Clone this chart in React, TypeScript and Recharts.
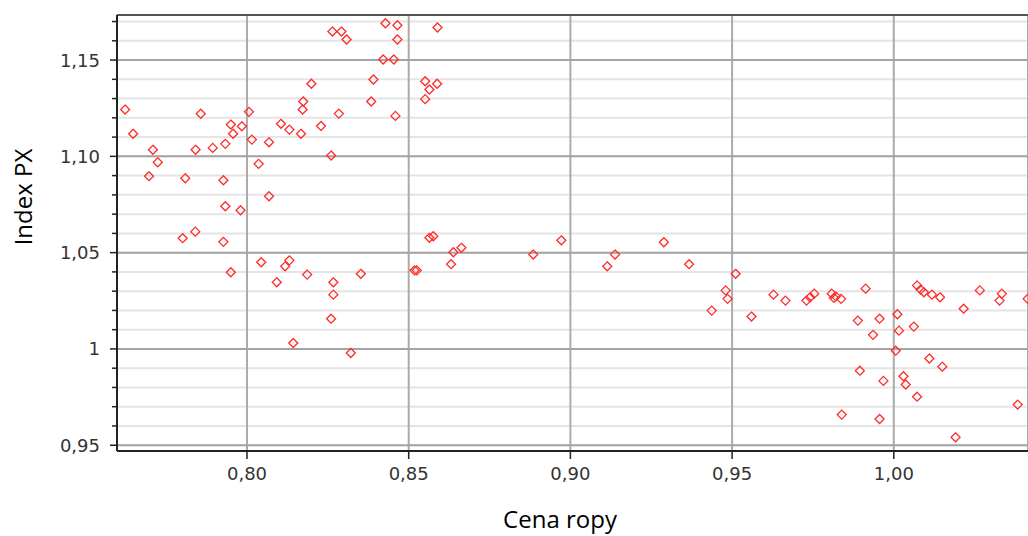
import React from "react";
import {
  ScatterChart,
  Scatter,
  XAxis,
  YAxis,
  CartesianGrid,
  ReferenceLine
} from "recharts";

// Cena ropy (x) a Index PX (y)
const cenaRopy = [
  0.7623, 0.7648, 0.7697, 0.7709, 0.7724, 0.7801, 0.7809, 0.784, 0.7841, 0.7857,
  0.7894, 0.7927, 0.7927, 0.7933, 0.7933, 0.795, 0.7957, 0.798, 0.7984, 0.8006,
  0.8015, 0.8036, 0.8068, 0.8068, 0.8105, 0.8131, 0.8167, 0.8172, 0.8174, 0.8199,
  0.8229, 0.826, 0.8264, 0.8284, 0.8292, 0.8308, 0.8428, 0.8465, 0.8589, 0.8465,
  0.8421, 0.8454, 0.8391, 0.8551, 0.8588, 0.8564, 0.8551, 0.8384, 0.8459, 0.8564,
  0.8576, 0.795, 0.8044, 0.8092, 0.8118, 0.8131, 0.8186, 0.8143, 0.8267, 0.8267,
  0.826, 0.8321, 0.8352, 0.8518, 0.8525, 0.8638, 0.8663, 0.8631, 0.8885, 0.8972,
  0.9114, 0.9138, 0.9289, 0.9367, 0.9437, 0.948, 0.9486, 0.9511, 0.956, 0.9628,
  0.9665, 0.973, 0.9741, 0.9754, 0.9808, 0.9815, 0.9821, 0.9837, 0.9839, 0.9889,
  0.9895, 0.9913, 0.9936, 0.9956, 0.9956, 0.9968, 1.0006, 1.0011, 1.0016, 1.003,
  1.0037, 1.0062, 1.0072, 1.0083, 1.0093, 1.0072, 1.011, 1.0118, 1.0143, 1.015,
  1.0191, 1.0216, 1.0266, 1.0327, 1.0334, 1.0383, 1.0414
];

const indexPX = [
  1.1243, 1.1117, 1.0897, 1.1034, 1.0969, 1.0575, 1.0886, 1.0609, 1.1034, 1.1221,
  1.1044, 1.0556, 1.0876, 1.0741, 1.1065, 1.1165, 1.1117, 1.072, 1.1156, 1.1231,
  1.1087, 1.0961, 1.1073, 1.0793, 1.1169, 1.1139, 1.1117, 1.1243, 1.1285, 1.1377,
  1.1158, 1.1004, 1.1648, 1.1222, 1.1648, 1.1607, 1.1691, 1.1681, 1.1669, 1.1607,
  1.1503, 1.1503, 1.1399, 1.139, 1.1377, 1.1347, 1.1297, 1.1285, 1.121, 1.0577,
  1.0585, 1.0398, 1.045, 1.0346, 1.0429, 1.046, 1.0386, 1.0031, 1.0346, 1.0282,
  1.0157, 0.9979, 1.039, 1.0408, 1.0408, 1.0502, 1.0525, 1.044, 1.049, 1.0564,
  1.0429, 1.049, 1.0554, 1.044, 1.0199, 1.0304, 1.026, 1.039, 1.0168, 1.0282,
  1.0251, 1.0251, 1.0268, 1.0287, 1.0287, 1.0265, 1.0273, 1.026, 0.9659, 1.0147,
  0.9887, 1.0313, 1.0073, 1.0157, 0.9636, 0.9834, 0.9991, 1.018, 1.0095, 0.9858,
  0.9815, 1.0116, 1.033, 1.0308, 1.0294, 0.9752, 0.995, 1.0282, 1.0268, 0.9908,
  0.9541, 1.0209, 1.0304, 1.0251, 1.0287, 0.9711, 1.026
];

const xTicks = [0.8, 0.85, 0.9, 0.95, 1.0];
const yTicks = [
  0.95, 0.96, 0.97, 0.98, 0.99, 1.0, 1.01, 1.02, 1.03, 1.04, 1.05, 1.06,
  1.07, 1.08, 1.09, 1.1, 1.11, 1.12, 1.13, 1.14, 1.15, 1.16, 1.17
];
const yMajor = [0.95, 1.0, 1.05, 1.1, 1.15];

const xDomain = [0.7598, 1.0415];
const yDomain = [0.947, 1.1734];

const data = cenaRopy.map((x, i) => ({ x, y: indexPX[i] }));

const isMajor = (v: number) => Math.round(v * 100) % 5 === 0;
const fmtX = (v: number) => v.toFixed(2).replace(".", ",");
const fmtY = (v: number) => (v === 1 ? "1" : v.toFixed(2).replace(".", ","));

const tickFont = { fontFamily: "DejaVu Sans", fontSize: 18, fill: "#333" };

const YTick = (props: any) => {
  const { x, y, payload } = props;
  const major = isMajor(payload.value);
  return (
    <g>
      <line x1={x - (major ? 7 : 5)} x2={x} y1={y} y2={y} stroke="#222" strokeWidth={1.5} />
      {major && (
        <text x={x - 17} y={y + 6.5} textAnchor="end" {...tickFont}>
          {fmtY(payload.value)}
        </text>
      )}
    </g>
  );
};

const XTick = (props: any) => {
  const { x, y, payload } = props;
  return (
    <g>
      <line x1={x} x2={x} y1={y} y2={y + 8} stroke="#222" strokeWidth={1.5} />
      <text x={x} y={y + 29} textAnchor="middle" {...tickFont}>
        {fmtX(payload.value)}
      </text>
    </g>
  );
};

const Diamond = (props: any) => {
  const { cx, cy } = props;
  if (cx == null || cy == null) return null;
  const r = 4.5;
  return (
    <path
      d={`M${cx},${cy - r}L${cx + r},${cy}L${cx},${cy + r}L${cx - r},${cy}Z`}
      fill="none"
      stroke="#ff2a2a"
      strokeWidth={1.3}
    />
  );
};

const YTitle = () => (
  <text
    x={22}
    y={197}
    transform="rotate(-90, 22, 197)"
    textAnchor="middle"
    dominantBaseline="central"
    fontFamily="Open Sans"
    fontSize={24}
    fill="#000"
  >
    Index PX
  </text>
);

const XTitle = () => (
  <text x={560} y={528} textAnchor="middle" fontFamily="Open Sans" fontSize={24} fill="#000">
    Cena ropy
  </text>
);

export default function App() {
  return (
    <div
      style={{
        position: "absolute",
        left: 0,
        top: 0,
        width: 1028,
        height: 536,
        overflow: "hidden",
        background: "#fff"
      }}
    >
      <ScatterChart width={1028} height={536} margin={{ top: 15, right: 0, bottom: 0, left: 0 }}>
        <CartesianGrid vertical={false} stroke="#e4e4e4" strokeWidth={2} />
        <CartesianGrid horizontal={false} stroke="#ababab" strokeWidth={2} />
        {yMajor.map((v) => (
          <ReferenceLine key={v} y={v} stroke="#a4a4a4" strokeWidth={2} />
        ))}
        <ReferenceLine y={yDomain[1]} stroke="#555" strokeWidth={2} />
        <XAxis
          type="number"
          dataKey="x"
          domain={xDomain}
          allowDataOverflow
          ticks={xTicks}
          interval={0}
          height={85}
          tickSize={0}
          tickMargin={0}
          tickLine={false}
          tick={<XTick />}
          axisLine={{ stroke: "#222", strokeWidth: 2 }}
          label={<XTitle />}
        />
        <YAxis
          type="number"
          dataKey="y"
          domain={yDomain}
          allowDataOverflow
          ticks={yTicks}
          interval={0}
          width={117}
          tickSize={0}
          tickMargin={0}
          tickLine={false}
          tick={<YTick />}
          axisLine={{ stroke: "#222", strokeWidth: 2 }}
          label={<YTitle />}
        />
        <Scatter data={data} shape={<Diamond />} isAnimationActive={false} />
      </ScatterChart>
    </div>
  );
}
